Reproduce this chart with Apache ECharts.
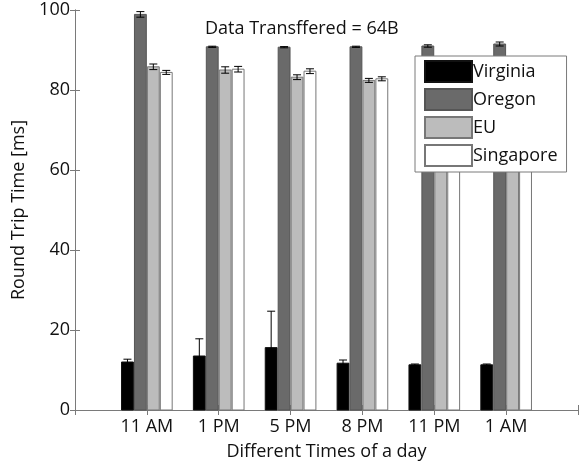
<!DOCTYPE html>
<html><head><meta charset="utf-8">
<script src="https://cdn.jsdelivr.net/npm/echarts@6/dist/echarts.min.js"></script>
<style>html,body{margin:0;padding:0;background:#fff}#c{width:579px;height:461px}</style>
</head><body><div id="c"></div>
<script>
const categories = ['11 AM', '1 PM', '5 PM', '8 PM', '11 PM', '1 AM'];
const seriesNames = ['Virginia', 'Oregon', 'EU', 'Singapore'];
const virginia = [12.0, 13.5, 15.6, 11.7, 11.3, 11.3];
const virginiaErr = [0.7, 4.3, 9.1, 0.8, 0.2, 0.2];
const oregon = [98.9, 90.8, 90.7, 90.8, 91.0, 91.5];
const oregonErr = [0.7, 0.15, 0.15, 0.15, 0.3, 0.5];
const eu = [85.8, 85.0, 83.2, 82.4, 83.5, 84.0];
const euErr = [0.7, 0.8, 0.6, 0.5, 0.5, 0.5];
const singapore = [84.4, 85.2, 84.7, 82.8, 84.0, 84.5];
const singaporeErr = [0.5, 0.7, 0.6, 0.5, 0.5, 0.5];
const yTicks = [0, 20, 40, 60, 80, 100];
const title = 'Data Transffered = 64B';

const values = [virginia, oregon, eu, singapore];
const errs = [virginiaErr, oregonErr, euErr, singaporeErr];
const fills = ['#000000', '#6a6a6a', '#bcbcbc', '#ffffff'];
const strokes = ['#111111', '#555555', '#777777', '#777777'];
const offsets = [-0.27, -0.09, 0.09, 0.27];
const barW = 0.165;
const FONT = '"Open Sans", "Noto Sans", sans-serif';

function render(params, api) {
  const si = params.seriesIndex;
  const x = api.value(0), y = api.value(1), e = api.value(2);
  const c = x + offsets[si];
  const p0 = api.coord([c - barW / 2, 0]);
  const p1 = api.coord([c + barW / 2, y]);
  const top = api.coord([c, y + e]);
  const bot = api.coord([c, y - e]);
  const cap = 4;
  const ec = '#000';
  return {
    type: 'group',
    children: [
      { type: 'rect', shape: { x: p0[0], y: p1[1], width: p1[0] - p0[0], height: p0[1] - p1[1] },
        style: { fill: fills[si], stroke: strokes[si], lineWidth: 1 } },
      { type: 'line', shape: { x1: top[0], y1: top[1], x2: bot[0], y2: bot[1] }, style: { stroke: ec, lineWidth: 1 } },
      { type: 'line', shape: { x1: top[0] - cap, y1: top[1], x2: top[0] + cap, y2: top[1] }, style: { stroke: ec, lineWidth: 1 } },
      { type: 'line', shape: { x1: bot[0] - cap, y1: bot[1], x2: bot[0] + cap, y2: bot[1] }, style: { stroke: ec, lineWidth: 1 } }
    ]
  };
}

const series = seriesNames.map((name, si) => ({
  name: name,
  type: 'custom',
  renderItem: render,
  itemStyle: { color: fills[si], borderColor: strokes[si], borderWidth: 1 },
  encode: { x: 0, y: 1 },
  data: categories.map((cat, i) => [i + 1, values[si][i], errs[si][i]])
}));

const axisLineStyle = { color: '#7a7a7a', width: 1 };
const txt = { fontFamily: FONT, fontSize: 18, color: '#111' };
const chart = echarts.init(document.getElementById('c'));
chart.setOption({
  animation: false,
  backgroundColor: '#fff',
  title: { text: title, left: 205, top: 20, padding: 0, textStyle: Object.assign({ fontWeight: 'normal' }, txt) },
  grid: { left: 75, right: 1, top: 10, bottom: 51, outerBoundsMode: 'none', containLabel: false },
  legend: {
    data: seriesNames, orient: 'vertical', left: 415, top: 56,
    itemWidth: 47, itemHeight: 21, itemGap: 5, icon: 'rect',
    padding: [4, 9, 5, 9],
    backgroundColor: '#fff', borderColor: '#7a7a7a', borderWidth: 1,
    textStyle: Object.assign({ padding: [0, 0, 0, -4], lineHeight: 21 }, txt)
  },
  xAxis: [{
    type: 'value', min: 0, max: 7, interval: 1,
    name: 'Different Times of a day', nameLocation: 'middle', nameGap: 33,
    nameTextStyle: txt,
    axisLine: { lineStyle: axisLineStyle },
    axisTick: { inside: true, length: 5, lineStyle: axisLineStyle },
    splitLine: { show: false },
    axisLabel: Object.assign({ margin: 8, formatter: v => categories[v - 1] || '' }, txt)
  }, {
    type: 'value', min: 0, max: 7, interval: 1, position: 'top',
    axisLine: { lineStyle: axisLineStyle },
    axisTick: { inside: true, length: 5, lineStyle: axisLineStyle },
    splitLine: { show: false }, axisLabel: { show: false }
  }],
  yAxis: [{
    type: 'value', min: yTicks[0], max: yTicks[yTicks.length - 1], interval: 20,
    name: 'Round Trip Time [ms]', nameLocation: 'middle', nameGap: 46,
    nameTextStyle: txt,
    axisLine: { show: true, lineStyle: axisLineStyle },
    axisTick: { show: true, inside: true, length: 5, lineStyle: axisLineStyle },
    splitLine: { show: false },
    axisLabel: Object.assign({ margin: 5 }, txt)
  }, {
    type: 'value', min: 0, max: 100, interval: 20, position: 'right',
    axisLine: { show: true, lineStyle: axisLineStyle },
    axisTick: { show: true, inside: true, length: 5, lineStyle: axisLineStyle },
    splitLine: { show: false }, axisLabel: { show: false }
  }],
  series: series
});
</script></body></html>
